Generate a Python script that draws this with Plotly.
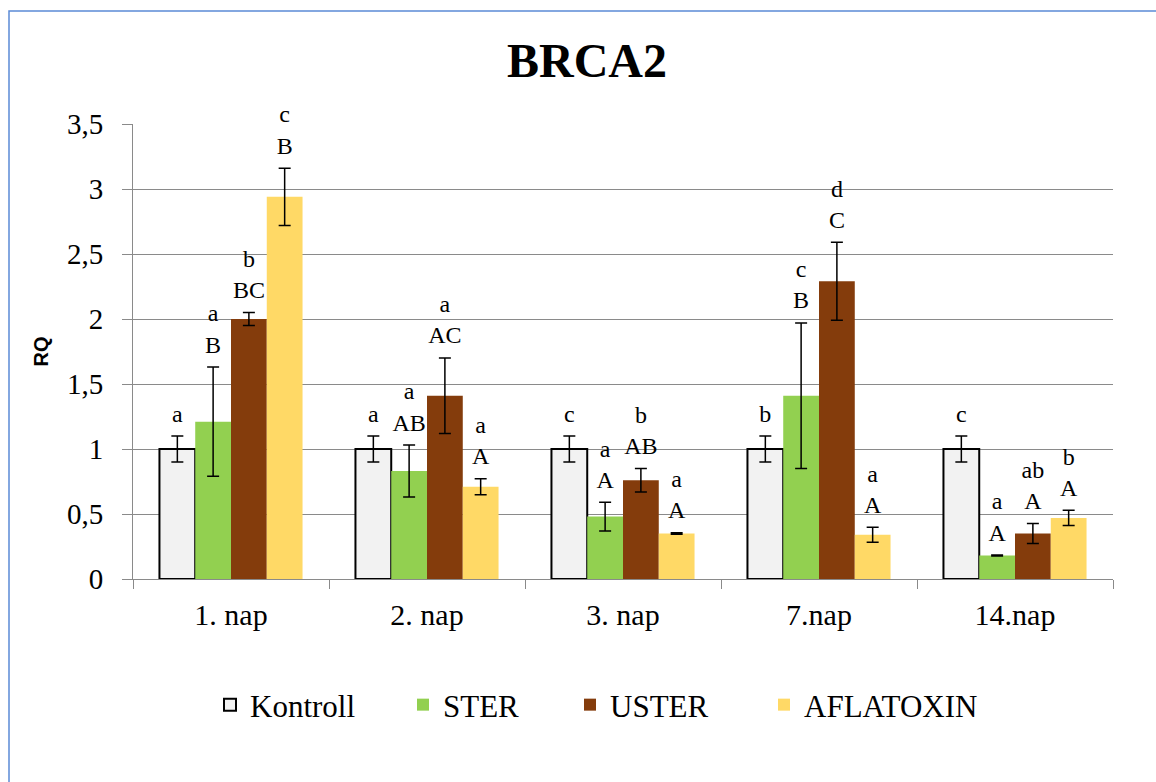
import plotly.graph_objects as go

# Relative expression (RQ) of BRCA2 by day and treatment
categories = ["1. nap", "2. nap", "3. nap", "7.nap", "14.nap"]

kontroll = [1.0, 1.0, 1.0, 1.0, 1.0]
kontroll_err = [0.1, 0.1, 0.1, 0.1, 0.1]

ster = [1.21, 0.83, 0.48, 1.41, 0.18]
ster_err = [0.42, 0.2, 0.11, 0.56, 0.004]

uster = [2.0, 1.41, 0.76, 2.29, 0.35]
uster_err = [0.05, 0.29, 0.09, 0.3, 0.077]

aflatoxin = [2.94, 0.71, 0.35, 0.34, 0.47]
aflatoxin_err = [0.22, 0.062, 0.005, 0.058, 0.058]

# significance letters: lowercase (within treatment over time), uppercase (within day)
kontroll_lower = ["a", "a", "c", "b", "c"]
ster_lower = ["a", "a", "a", "c", "a"]
ster_upper = ["B", "AB", "A", "B", "A"]
uster_lower = ["b", "a", "b", "d", "ab"]
uster_upper = ["BC", "AC", "AB", "C", "A"]
aflatoxin_lower = ["c", "a", "a", "a", "b"]
aflatoxin_upper = ["B", "A", "A", "A", "A"]

# name, values, errors, colour, lower letters, upper letters, legend entry width
series = [
    ("Kontroll", kontroll, kontroll_err, "#f2f2f2", kontroll_lower, None, 148),
    ("STER", ster, ster_err, "#92d050", ster_lower, ster_upper, 122),
    ("USTER", uster, uster_err, "#843c0c", uster_lower, uster_upper, 149),
    ("AFLATOXIN", aflatoxin, aflatoxin_err, "#ffd966", aflatoxin_lower, aflatoxin_upper, 200),
]

SERIF = "Liberation Serif"
GRID = "#8a8a8a"

fig = go.Figure()

for name, vals, err, color, lower, upper, lw in series:
    is_ctrl = name == "Kontroll"
    fig.add_trace(go.Bar(
        x=categories, y=vals, name=name, offsetgroup=name, legendwidth=lw,
        marker=dict(color=color,
                    line=dict(color="#000000" if is_ctrl else color,
                              width=2 if is_ctrl else 0)),
        error_y=dict(type="data", array=err, visible=True,
                     color="#000000", thickness=1.5, width=6),
    ))

# letter labels sitting above each error bar
for name, vals, err, color, lower, upper, lw in series:
    if upper is None:
        texts = lower
    else:
        texts = [f"{lo}<br>{up}" for lo, up in zip(lower, upper)]
    tops = [v + e for v, e in zip(vals, err)]
    fig.add_trace(go.Scatter(
        x=categories, y=tops, mode="markers+text", text=texts,
        marker=dict(size=12, opacity=0),
        textposition="top center", offsetgroup=name, orientation="v",
        textfont=dict(family=SERIF, size=24, color="#000000"),
        showlegend=False, hoverinfo="skip", cliponaxis=False,
    ))

fig.update_layout(
    width=1156, height=782,
    margin=dict(l=133, r=43, t=124, b=203),
    paper_bgcolor="white", plot_bgcolor="white",
    barmode="group", bargap=0.27, bargroupgap=0,
    scattermode="group", scattergap=0.27,
    separators=", ",
    title=dict(text="BRCA2", x=587 / 1156, xref="container", xanchor="center",
               y=1 - 60 / 782, yref="container", yanchor="middle",
               font=dict(family=SERIF, size=48, color="#000000", weight="bold")),
    font=dict(family=SERIF, color="#000000"),
    legend=dict(orientation="h", x=(210 - 133) / 980, xanchor="left",
                y=(579 - 705) / 455, yanchor="middle",
                traceorder="normal",
                font=dict(family=SERIF, size=31, color="#000000")),
    showlegend=True,
)

fig.update_xaxes(
    type="category", tickson="boundaries", ticks="outside", ticklen=9,
    tickcolor=GRID, showline=True, linecolor=GRID, linewidth=1,
    tickfont=dict(family=SERIF, size=30, color="#000000"),
    ticklabelstandoff=9, showgrid=False,
)
fig.update_yaxes(
    range=[0, 3.5], dtick=0.5, tick0=0, ticks="outside", ticklen=10,
    tickcolor=GRID, showline=True, linecolor=GRID, linewidth=1,
    showgrid=True, gridcolor=GRID, gridwidth=1, zeroline=False,
    tickfont=dict(family=SERIF, size=29, color="#000000"),
    ticklabelstandoff=13,
    title=dict(text="RQ", standoff=12,
               font=dict(family="Liberation Sans", size=20,
                         color="#000000", weight="bold")),
)

# chart frame
fig.add_shape(type="rect", xref="paper", yref="paper",
              x0=(9 - 133) / 980, x1=(1175 - 133) / 980,
              y0=(579 - 800) / 455, y1=(579 - 11) / 455,
              line=dict(color="#5b8bd6", width=1.5), fillcolor="rgba(0,0,0,0)",
              layer="below")

fig.write_html("out.html")
